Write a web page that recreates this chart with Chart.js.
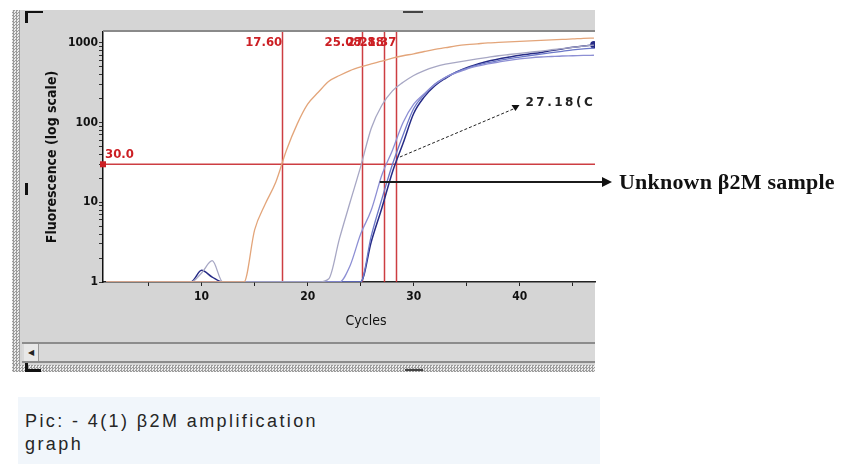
<!DOCTYPE html>
<html>
<head>
<meta charset="utf-8">
<title>B2M amplification graph</title>
<script src="https://cdn.jsdelivr.net/npm/chart.js@4.4.0/dist/chart.umd.min.js"></script>
<style>
  html, body { margin: 0; padding: 0; background: #ffffff; }
  #stage { position: relative; width: 843px; height: 464px; overflow: hidden; }
  .abs { position: absolute; }
  .panel { left: 20px; top: 10px; width: 575px; height: 355px; background: #d5d5d5; }
  .hatch { background: repeating-conic-gradient(#9c9c9c 0 25%, #ececec 0 50%) 0 0 / 3px 3px; }
  .mark { background: #111111; }
  .scroll { left: 22px; top: 342px; width: 573px; height: 17px; background: #d9d9d9;
            border-top: 2px solid #8c8c8c; border-bottom: 2px solid #8c8c8c; }
  .scroll .btn { position: absolute; left: 2px; top: 0; width: 14px; height: 17px; background: #e8e8e8;
                 border-right: 1px solid #9a9a9a; font: 8px "DejaVu Sans", sans-serif; color: #222;
                 line-height: 17px; text-align: center; }
  .caption { left: 18px; top: 397px; width: 582px; height: 67px; background: #f1f6fb; }
  .caption p { margin: 0; position: absolute; left: 7px; top: 13px; font: 18px "Liberation Sans", Arial, sans-serif;
               line-height: 23px; color: #262626; letter-spacing: 2.4px; }
  .note { left: 619px; top: 169px; font: bold 22px "Liberation Serif", "Times New Roman", serif; color: #111111;
          white-space: nowrap; z-index: 3; letter-spacing: 0.2px; }
  #chart { position: absolute; left: 0; top: 0; z-index: 2; }
</style>
</head>
<body>
<div id="stage">
  <div class="abs panel"></div>
  <div class="abs hatch" style="left:12px;top:10px;width:8px;height:362px;"></div>
  <div class="abs hatch" style="left:12px;top:365px;width:583px;height:7px;"></div>
  <div class="abs mark" style="left:25px;top:11px;width:18px;height:2px;"></div>
  <div class="abs mark" style="left:25px;top:11px;width:3px;height:12px;"></div>
  <div class="abs mark" style="left:25px;top:183px;width:3px;height:12px;"></div>
  <div class="abs mark" style="left:25px;top:357px;width:3px;height:14px;"></div>
  <div class="abs mark" style="left:25px;top:369px;width:16px;height:3px;"></div>
  <div class="abs mark" style="left:403px;top:11px;width:20px;height:2px;background:#444;"></div>
  <div class="abs mark" style="left:405px;top:369px;width:18px;height:2px;background:#444;"></div>
  <div class="abs scroll"><div class="btn">&#9664;</div></div>
  <div class="abs caption"><p>Pic: - 4(1) &beta;2M amplification<br>graph</p></div>
  <div class="abs note">Unknown &beta;2M sample</div>
  <canvas id="chart" width="843" height="464"></canvas>
</div>
<script>
'use strict';

// #pragma Data

let cycles = [1, 2, 3, 4, 5, 6, 7, 8, 9, 10, 11, 12, 13, 14, 15, 16, 17, 18, 19, 20, 21, 22, 23, 24,
  25, 26, 27, 28, 29, 30, 31, 32, 33, 34, 35, 36, 37, 38, 39, 40, 41, 42, 43, 44, 45, 46, 47];

// standard, Ct 17.60
let sampleOrange = [1, 1, 1, 1, 1, 1, 1, 1, 1, 1, 1, 1, 1, 1, 4.5, 9.5, 18, 45, 95, 170, 240, 330, 390, 450,
  500, 545, 590, 645, 690, 730, 780, 830, 870, 915, 950, 975, 1000, 1015, 1030, 1045, 1060, 1075, 1090, 1105, 1120, 1140, 1150];
// standard, Ct 25.0
let sampleGrey = [1, 1, 1, 1, 1, 1, 1, 1, 1, 1.3, 1.85, 1, 1, 1, 1, 1, 1, 1, 1, 1, 1, 1.1, 3.5, 10,
  28, 85, 165, 250, 320, 390, 450, 500, 540, 570, 600, 630, 660, 690, 715, 740, 765, 790, 820, 850, 880, 910, 940];
// standard, Ct 27.18
let sampleLavender = [1, 1, 1, 1, 1, 1, 1, 1, 1, 1, 1, 1, 1, 1, 1, 1, 1, 1, 1, 1, 1, 1, 1, 1.6,
  4, 8, 22, 45, 100, 170, 230, 300, 370, 420, 470, 510, 545, 575, 605, 630, 650, 665, 675, 685, 690, 697, 700];
// unknown replicate
let sampleBlue = [1, 1, 1, 1, 1, 1, 1, 1, 1, 1, 1, 1, 1, 1, 1, 1, 1, 1, 1, 1, 1, 1, 1, 1,
  1, 3.8, 11, 30, 70, 150, 225, 305, 370, 430, 480, 525, 565, 600, 635, 665, 695, 725, 755, 785, 815, 840, 860];
// unknown b2M sample, Ct 28.37
let sampleNavy = [1, 1, 1, 1, 1, 1, 1, 1, 1, 1.4, 1.15, 1, 1, 1, 1, 1, 1, 1, 1, 1, 1, 1, 1, 1,
  1, 3.2, 8.5, 24, 55, 130, 210, 290, 360, 430, 490, 540, 590, 630, 665, 700, 730, 760, 800, 840, 880, 915, 945];

let ctValues = [17.60, 25.08, 27.18, 28.37];
let ctLabels = ['17.60', '25.08', '27.18', '28.37'];
let threshold = 30;
let thresholdLabel = '30.0';

let yTickValues = [1, 2, 3, 4, 5, 6, 7, 8, 9, 10, 20, 30, 40, 50, 60, 70, 80, 90,
  100, 200, 300, 400, 500, 600, 700, 800, 900, 1000];
let xTickValues = [5, 10, 15, 20, 25, 30, 35, 40, 45];

// annotation anchors, in data units
let calloutFrom = { x: 28.7, y: 37 };
let calloutTo = { x: 39.6, y: 152 };
let calloutText = '27.18(C)';
let unknownArrowFrom = { x: 26.8, y: 18 };

// #pragma Helpers

function toPoints(values) {
  return cycles.map((c, i) => ({ x: c, y: values[i] }));
}

function makeSet(label, values, color, width) {
  return {
    label: label,
    data: toPoints(values),
    borderColor: color,
    backgroundColor: color,
    borderWidth: width,
    pointRadius: 0,
    cubicInterpolationMode: 'monotone',
  };
}

let narrowFamily = '"Liberation Sans Narrow", "DejaVu Sans Condensed", Arial, sans-serif';
let tickFont = { family: narrowFamily, size: 12, weight: 'bold' };

// #pragma Plugin for the instrument overlay

let overlayPlugin = {
  id: 'overlay',
  beforeDraw(chart) {
    let { ctx, chartArea: a } = chart;
    ctx.save();
    ctx.fillStyle = '#ffffff';
    ctx.fillRect(a.left, a.top, a.right - a.left, a.bottom - a.top);
    ctx.restore();
  },
  beforeDatasetsDraw(chart) {
    let { ctx, chartArea: a, scales } = chart;
    let ty = scales.y.getPixelForValue(threshold);
    ctx.save();
    ctx.strokeStyle = 'rgba(200, 40, 45, 0.9)';
    ctx.lineWidth = 1.5;
    ctx.beginPath();
    ctx.moveTo(a.left, ty);
    ctx.lineTo(a.right, ty);
    ctValues.forEach((ct) => {
      let x = Math.round(scales.x.getPixelForValue(ct)) + 0.5;
      ctx.moveTo(x, a.top);
      ctx.lineTo(x, a.bottom);
    });
    ctx.stroke();
    ctx.restore();
  },
  afterDatasetsDraw(chart) {
    let { ctx, chartArea: a, scales } = chart;
    let xs = scales.x;
    let ys = scales.y;
    ctx.save();

    // ct labels and threshold label
    ctx.fillStyle = '#cc1f24';
    ctx.font = 'bold 13px ' + narrowFamily;
    ctx.textBaseline = 'middle';
    ctx.textAlign = 'right';
    ctValues.forEach((ct, i) => {
      ctx.fillText(ctLabels[i], xs.getPixelForValue(ct), a.top + 11);
    });
    let ty = ys.getPixelForValue(threshold);
    ctx.textAlign = 'left';
    ctx.fillText(thresholdLabel, a.left + 2, ty - 10);
    ctx.fillRect(a.left - 3, ty - 3, 6, 6);

    // dotted callout for the unknown sample
    let p0x = xs.getPixelForValue(calloutFrom.x);
    let p0y = ys.getPixelForValue(calloutFrom.y);
    let p1x = xs.getPixelForValue(calloutTo.x);
    let p1y = ys.getPixelForValue(calloutTo.y);
    ctx.strokeStyle = '#222222';
    ctx.lineWidth = 1;
    ctx.setLineDash([3, 2]);
    ctx.beginPath();
    ctx.moveTo(p0x, p0y);
    ctx.lineTo(p1x, p1y);
    ctx.stroke();
    ctx.setLineDash([]);
    ctx.fillStyle = '#111111';
    ctx.beginPath();
    ctx.moveTo(p1x - 4, p1y - 3);
    ctx.lineTo(p1x + 4, p1y - 3);
    ctx.lineTo(p1x, p1y + 3);
    ctx.closePath();
    ctx.fill();

    ctx.save();
    ctx.beginPath();
    ctx.rect(a.left, a.top, a.right - a.left, a.bottom - a.top);
    ctx.clip();
    ctx.font = 'bold 12px "DejaVu Sans", sans-serif';
    ctx.letterSpacing = '2.5px';
    ctx.textAlign = 'left';
    ctx.fillStyle = '#222222';
    ctx.fillText(calloutText, p1x + 10, p1y - 5);
    ctx.restore();

    // solid arrow to the outside note
    let ux = xs.getPixelForValue(unknownArrowFrom.x);
    let uy = Math.round(ys.getPixelForValue(unknownArrowFrom.y));
    let tip = a.right + 17;
    ctx.strokeStyle = '#1b1b1b';
    ctx.lineWidth = 2;
    ctx.beginPath();
    ctx.moveTo(ux, uy);
    ctx.lineTo(tip - 8, uy);
    ctx.stroke();
    ctx.fillStyle = '#111111';
    ctx.beginPath();
    ctx.moveTo(tip - 10, uy - 5);
    ctx.lineTo(tip, uy);
    ctx.lineTo(tip - 10, uy + 5);
    ctx.closePath();
    ctx.fill();

    // x axis title, centred on the full 1-50 cycle run
    ctx.font = '14px ' + narrowFamily;
    ctx.fillStyle = '#111111';
    ctx.textAlign = 'center';
    ctx.letterSpacing = '0px';
    ctx.fillText('Cycles', xs.getPixelForValue(25.5), a.bottom + 39);

    // top frame
    ctx.strokeStyle = '#8a8a8a';
    ctx.lineWidth = 2;
    ctx.beginPath();
    ctx.moveTo(a.left, a.top - 1);
    ctx.lineTo(a.right, a.top - 1);
    ctx.stroke();
    ctx.restore();
  },
};

// #pragma Chart

let chartContext = document.getElementById('chart').getContext('2d');

let chartConfig = {
  type: 'line',
  data: {
    datasets: [
      makeSet('Standard 1', sampleOrange, '#e3a57a', 1.3),
      makeSet('Standard 2', sampleGrey, '#a7a7c4', 1.3),
      makeSet('Standard 3', sampleLavender, '#8d8fd4', 1.3),
      makeSet('Unknown replicate', sampleBlue, '#6c78c8', 1.3),
      Object.assign(makeSet('Unknown b2M', sampleNavy, '#262b86', 1.5), {
        pointRadius: (c) => (c.dataIndex === cycles.length - 1 ? 3 : 0),
      }),
    ],
  },
  options: {
    responsive: false,
    animation: false,
    events: [],
    layout: { padding: { left: 20, right: 248, top: 32, bottom: 92 } },
    plugins: { legend: { display: false }, tooltip: { enabled: false } },
    scales: {
      x: {
        type: 'linear',
        min: 0.7,
        max: 47.1,
        afterFit(scale) { scale.height = 90; },
        afterBuildTicks(scale) { scale.ticks = xTickValues.map((v) => ({ value: v })); },
        ticks: {
          font: tickFont,
          color: '#111111',
          padding: 4,
          maxRotation: 0,
          autoSkip: false,
          callback: (v) => (v % 10 === 0 ? String(v) : ''),
        },
        grid: { drawOnChartArea: false, drawTicks: true, tickLength: 4, color: '#222222' },
        border: { display: true, color: '#222222', width: 1.5 },
      },
      y: {
        type: 'logarithmic',
        min: 1,
        max: 1370,
        afterFit(scale) { scale.width = 83; },
        afterBuildTicks(scale) { scale.ticks = yTickValues.map((v) => ({ value: v })); },
        ticks: {
          font: tickFont,
          color: '#111111',
          padding: 1,
          autoSkip: false,
          callback: (v) => (Number.isInteger(Math.log10(v)) ? String(v) : ''),
        },
        grid: { drawOnChartArea: false, drawTicks: true, tickLength: 4, color: '#333333' },
        border: { display: true, color: '#111111', width: 1.5 },
        title: {
          display: true,
          text: 'Fluorescence (log scale)',
          color: '#111111',
          font: { family: narrowFamily, size: 14, weight: 'bold' },
          padding: { top: 24, bottom: 0 },
        },
      },
    },
  },
  plugins: [overlayPlugin],
};

let myChart = new Chart(chartContext, chartConfig);
</script>
</body>
</html>
